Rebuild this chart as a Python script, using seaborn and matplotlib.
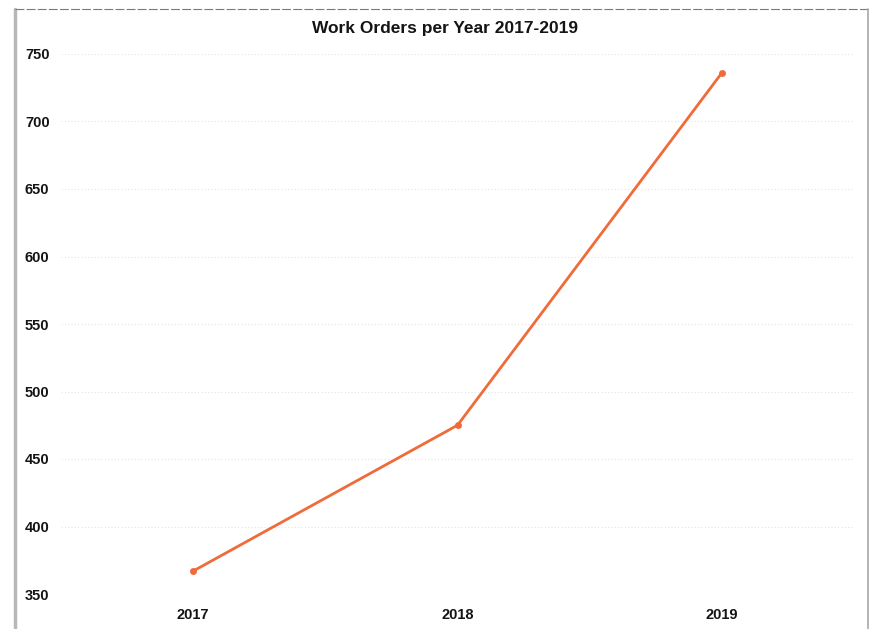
import matplotlib
matplotlib.use("Agg")
import matplotlib.pyplot as plt
from matplotlib.lines import Line2D
import pandas as pd
import seaborn as sns

years = ["2017", "2018", "2019"]
work_orders = [367, 475, 736]
y_ticks = [350, 400, 450, 500, 550, 600, 650, 700, 750]

sns.set_theme(style="white")
plt.rcParams["font.family"] = ["Liberation Sans", "DejaVu Sans"]

df = pd.DataFrame({"Year": years, "Work Orders": work_orders})

fig = plt.figure(figsize=(8.74, 6.29), dpi=100)
ax = fig.add_axes([61 / 874, 1 - 594 / 629, 793 / 874, 540 / 629])

sns.lineplot(data=df, x="Year", y="Work Orders", ax=ax, sort=False,
             color="#F06B3A", linewidth=2.0, marker="o", markersize=5,
             markeredgewidth=0)

ax.set_xlim(-0.5, 2.5)
ax.set_ylim(350, 750)
ax.set_yticks(y_ticks)
ax.set_xticks(range(len(years)))
ax.set_xticklabels(years)
ax.set_xlabel("")
ax.set_ylabel("")
for s in ax.spines.values():
    s.set_visible(False)
ax.yaxis.grid(True, color="#e4e4e4", linestyle=(0, (1, 2)), linewidth=0.8)
ax.set_axisbelow(True)
ax.tick_params(axis="y", length=0, pad=0, labelsize=10.5)
ax.tick_params(axis="x", length=0, pad=10, labelsize=10.5)
for lbl in ax.get_xticklabels() + ax.get_yticklabels():
    lbl.set_fontweight("bold")
    lbl.set_color("#141414")
for lbl in ax.get_yticklabels():
    lbl.set_horizontalalignment("left")
    lbl.set_x(-(61 - 25) / 793)

fig.text(445 / 874, 1 - 29 / 629, "Work Orders per Year 2017-2019",
         ha="center", va="center", fontsize=12.5, fontweight="bold",
         color="#141414")

# chart frame
fig.add_artist(Line2D([15 / 874, 15 / 874], [0, 1 - 9 / 629],
                      transform=fig.transFigure, color="#b8b8b8", linewidth=2.5))
fig.add_artist(Line2D([15 / 874, 868 / 874], [1 - 9 / 629, 1 - 9 / 629],
                      transform=fig.transFigure, color="#7a7a7a", linewidth=0.8,
                      linestyle=(0, (8, 2))))
fig.add_artist(Line2D([868 / 874, 868 / 874], [0, 1 - 9 / 629],
                      transform=fig.transFigure, color="#a8a8a8", linewidth=1.2))

fig.savefig("out.png", dpi=100, facecolor="white")
